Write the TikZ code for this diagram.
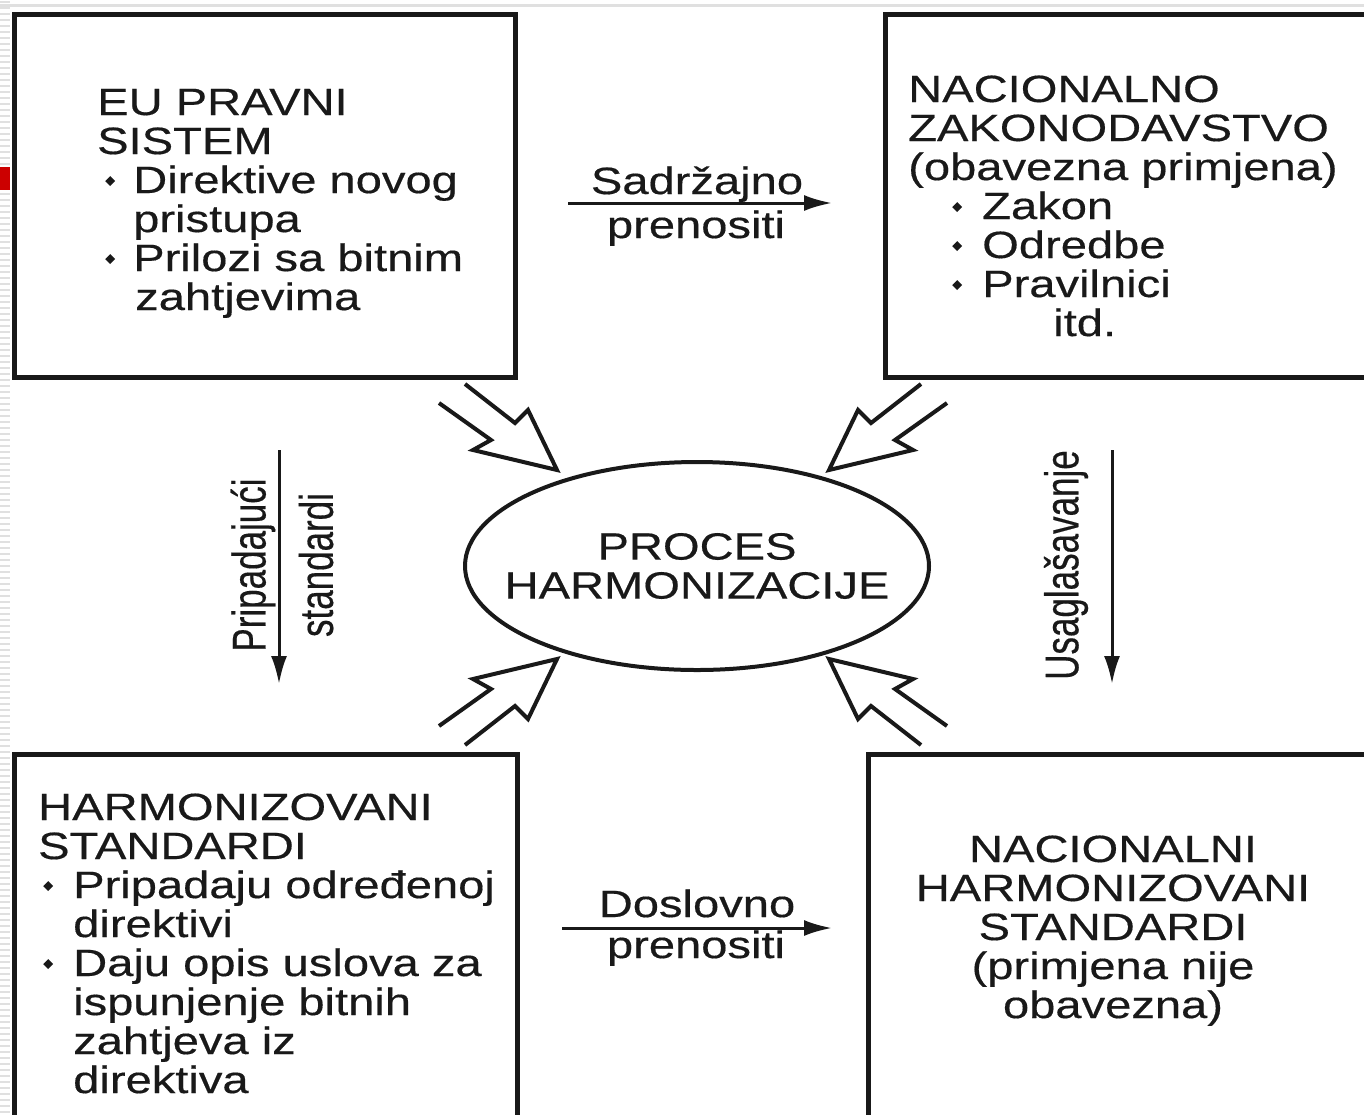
\documentclass[tikz,border=0pt]{standalone}
\usepackage{fontspec}
\setmainfont[FakeStretch=1.24,FakeBold=0.4]{Liberation Sans}
\newfontfamily\rotfont[FakeBold=0.4]{Liberation Sans}
\usetikzlibrary{arrows.meta,shapes.geometric}
\newcommand{\bul}{\raisebox{7pt}{\rotatebox{45}{\rule{7pt}{7pt}}}}
\newcommand{\bitem}[3]{\makebox[#2][l]{\hspace*{#1}\bul}#3}
\begin{document}
\begin{tikzpicture}[x=1pt,y=-1pt,
  txt/.style={font=\fontsize{38}{39}\selectfont, inner sep=0pt, align=left, text=black!90},
  rtxt/.style={font=\rotfont\fontsize{35}{39}\selectfont, inner sep=0pt, rotate=90, text=black!90},
  box/.style={draw=black!90, line width=4.5pt, anchor=north west, inner sep=0pt},
  conn/.style={draw=black!90, line width=3pt, -{Latex[length=28pt,width=16pt]}},
  hollow/.style={draw=black!90, line width=4pt, line join=miter}]
\useasboundingbox (0,0) rectangle (1364,1114);
\clip (0,0) rectangle (1364,1114);
\fill[white] (0,0) rectangle (1364,1114);
% slide background
\foreach \y in {0,6,...,1110} \draw[black!12, line width=2pt] (0,\y+2) -- (10,\y+2);
\draw[black!12, line width=3pt] (0,5) -- (1364,5);
\fill[red!80!black] (0,167) rectangle (10,190);
% boxes
\node[box, minimum width=501pt, minimum height=363pt] (b1) at (12,12) {};
\node[box, minimum width=500pt, minimum height=363pt] (b2) at (883,12) {};
\node[box, minimum width=503pt, minimum height=380pt] (b3) at (12,752) {};
\node[box, minimum width=520pt, minimum height=380pt] (b4) at (866,752) {};
% box texts (base anchor = baseline of last line)
\node[txt, anchor=base west] (t1) at (97,310) {EU PRAVNI\\SISTEM\\\bitem{8pt}{36pt}{Direktive novog}\\\hspace*{36pt}pristupa\\\bitem{8pt}{36pt}{Prilozi sa bitnim}\\\hspace*{38pt}zahtjevima};
\node[txt, anchor=base west] (t2) at (908,336) {NACIONALNO\\ZAKONODAVSTVO\\(obavezna primjena)\\\bitem{44pt}{74pt}{Zakon}\\\bitem{44pt}{74pt}{Odredbe}\\\bitem{44pt}{74pt}{Pravilnici}\\\hspace*{145pt}itd.};
\node[txt, anchor=base west] (t3) at (38,1093) {HARMONIZOVANI\\STANDARDI\\\bitem{5pt}{35pt}{Pripadaju određenoj}\\\hspace*{35pt}direktivi\\\bitem{5pt}{35pt}{Daju opis uslova za}\\\hspace*{35pt}ispunjenje bitnih\\\hspace*{35pt}zahtjeva iz\\\hspace*{35pt}direktiva};
\node[txt, align=center, anchor=base] (t4) at (1113,1018) {NACIONALNI\\HARMONIZOVANI\\STANDARDI\\(primjena nije\\obavezna)};
% ellipse
\node[ellipse, draw=black!90, line width=4pt, minimum width=464pt, minimum height=208pt, inner sep=0pt] (proc) at (697,566) {};
\node[txt, align=center] (proct) at (proc.center) {PROCES\\HARMONIZACIJE};
% horizontal arrows with labels
\node[txt, anchor=base] (l1) at (697,194) {Sadržajno};
\node[txt, anchor=base] (l2) at (696,238) {prenositi};
\coordinate (h1s) at (568,203);
\coordinate (h1e) at (832,203);
\draw[conn] (h1s) -- (h1e);
\node[txt, anchor=base] (l3) at (697,917) {Doslovno};
\node[txt, anchor=base] (l4) at (696,958) {prenositi};
\coordinate (h2s) at (562,928);
\coordinate (h2e) at (832,928);
\draw[conn] (h2s) -- (h2e);
% vertical arrows with labels
\node[rtxt] (v1) at (253,565) {\scalebox{1}[1.35]{Pripadajući}};
\node[rtxt] (v2) at (316,565) {\scalebox{1}[1.35]{standardi}};
\coordinate (v1s) at (279,450);
\coordinate (v1e) at (279,684);
\draw[conn] (v1s) -- (v1e);
\node[rtxt] (v3) at (1066,565) {\scalebox{1}[1.35]{Usaglašavanje}};
\coordinate (v2s) at (1112,450);
\coordinate (v2e) at (1112,684);
\draw[conn] (v2s) -- (v2e);
% hollow arrows
\foreach \sx/\sy in {1/1, -1/1, 1/-1, -1/-1} {
  \begin{scope}[shift={(693,564.5)}, xscale=\sx, yscale=\sy]
  \draw[hollow] (-228,-180.5) -- (-178,-141.5) -- (-165,-154.5) -- (-136,-94.5) -- (-220,-114.5) -- (-202,-124.5) -- (-254,-161.5);
  \end{scope}}
\end{tikzpicture}
\end{document}
